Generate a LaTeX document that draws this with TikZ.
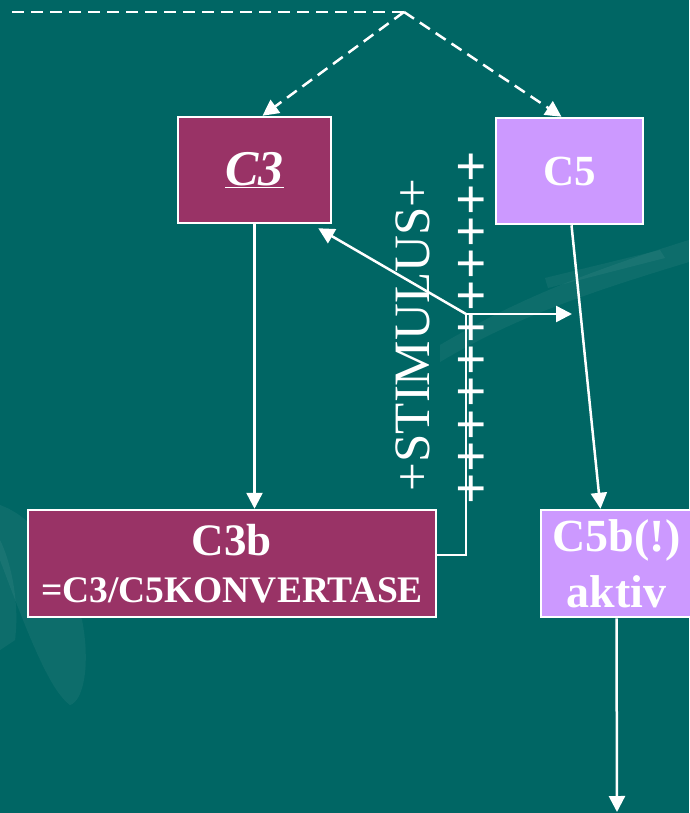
\documentclass[tikz,border=0pt]{standalone}
\usepackage{fontspec}
\setmainfont{Liberation Serif}
\usetikzlibrary{arrows.meta}
\definecolor{bgteal}{RGB}{0,102,100}
\definecolor{cthree}{RGB}{153,51,102}
\definecolor{cfive}{RGB}{204,153,255}
\tikzset{
  box/.style={draw=white, line width=2.5pt, inner sep=0pt, text=white, align=center},
  conn/.style={draw=white, line width=2.5pt, -{Triangle[length=16pt,width=16pt]}},
  dconn/.style={conn, dash pattern=on 12pt off 7pt},
  plain/.style={draw=white, line width=2.5pt},
  streak/.style={fill=white, opacity=0.05, draw=none}
}
\begin{document}
\begin{tikzpicture}[x=1pt,y=-1pt]
\useasboundingbox (0,0) rectangle (689,813);
\fill[bgteal] (0,0) rectangle (689,813);
% faint background streaks
\fill[streak] (0,505) .. controls (40,520) and (60,560) .. (82,620) .. controls (90,660) and (85,700) .. (70,705) .. controls (50,690) and (30,640) .. (0,560) -- cycle;
\fill[streak] (0,540) .. controls (10,560) and (20,600) .. (15,640) -- (0,650) -- cycle;
\fill[streak] (440,345) .. controls (500,310) and (560,280) .. (689,240) -- (689,262) .. controls (580,295) and (510,320) .. (440,362) -- cycle;
\fill[streak] (545,278) -- (660,250) -- (665,258) -- (548,288) -- cycle;

% boxes
\node[box, fill=cthree, minimum width=153pt, minimum height=106pt,
      font=\fontsize{50}{52}\selectfont] (c3) at (254.5,170) {\underline{\textbf{\textit{C3}}}};
\node[box, fill=cfive, minimum width=147pt, minimum height=106pt,
      font=\fontsize{43}{44}\selectfont\bfseries] (c5) at (569.5,171) {C5};
\node[box, fill=cthree, minimum width=408pt, minimum height=107pt,
      font=\fontsize{37.5}{46}\selectfont\bfseries] (c3b) at (232,563.5)
      {{\fontsize{45}{46}\selectfont C3b}\\[1pt]=C3/C5KONVERTASE};
\node[box, fill=cfive, minimum width=151pt, minimum height=107pt,
      font=\fontsize{46}{56}\selectfont\bfseries] (c5b) at (616.5,563.5)
      {C5b(!)\\aktiv};

% stimulus text and plus column
\node[text=white, rotate=90, inner sep=0pt, font=\fontsize{51}{51}\selectfont] (stim) at (413,335) {+STIMULUS+};
\node[text=white, rotate=90, inner sep=0pt, font=\fontsize{55}{55}\selectfont\bfseries] (plus) at (474,328)
  {+\kern0.8pt+\kern0.8pt+\kern0.8pt+\kern0.8pt+\kern0.8pt+\kern0.8pt+\kern0.8pt+\kern0.8pt+\kern0.8pt+\kern0.8pt+};

% coordinates
\coordinate (apex) at (404,12);
\coordinate (tl) at (12,12);
\coordinate (j) at (466,314);
\coordinate (r) at (572,314);
\coordinate (bot) at (617,812);

% dashed top connectors
\draw[plain, dash pattern=on 12pt off 7pt] (tl) -- (apex);
\draw[dconn] (apex) -- ([xshift=8]c3.north);
\draw[dconn] (apex) -- ([xshift=-8]c5.north);

% solid connectors
\draw[conn] (c3.south) -- (c3.south |- c3b.north);
\draw[conn] ([xshift=2]c5.south) -- ([xshift=-16]c5b.north);
\draw[conn] (c5b.south) -- (bot);
\draw[plain] ([yshift=8.5]c3b.east) -| (j);
\draw[conn] (j) -- ([xshift=-14,yshift=-4]c3.south east);
\draw[conn] (j) -- (r);
\end{tikzpicture}
\end{document}
